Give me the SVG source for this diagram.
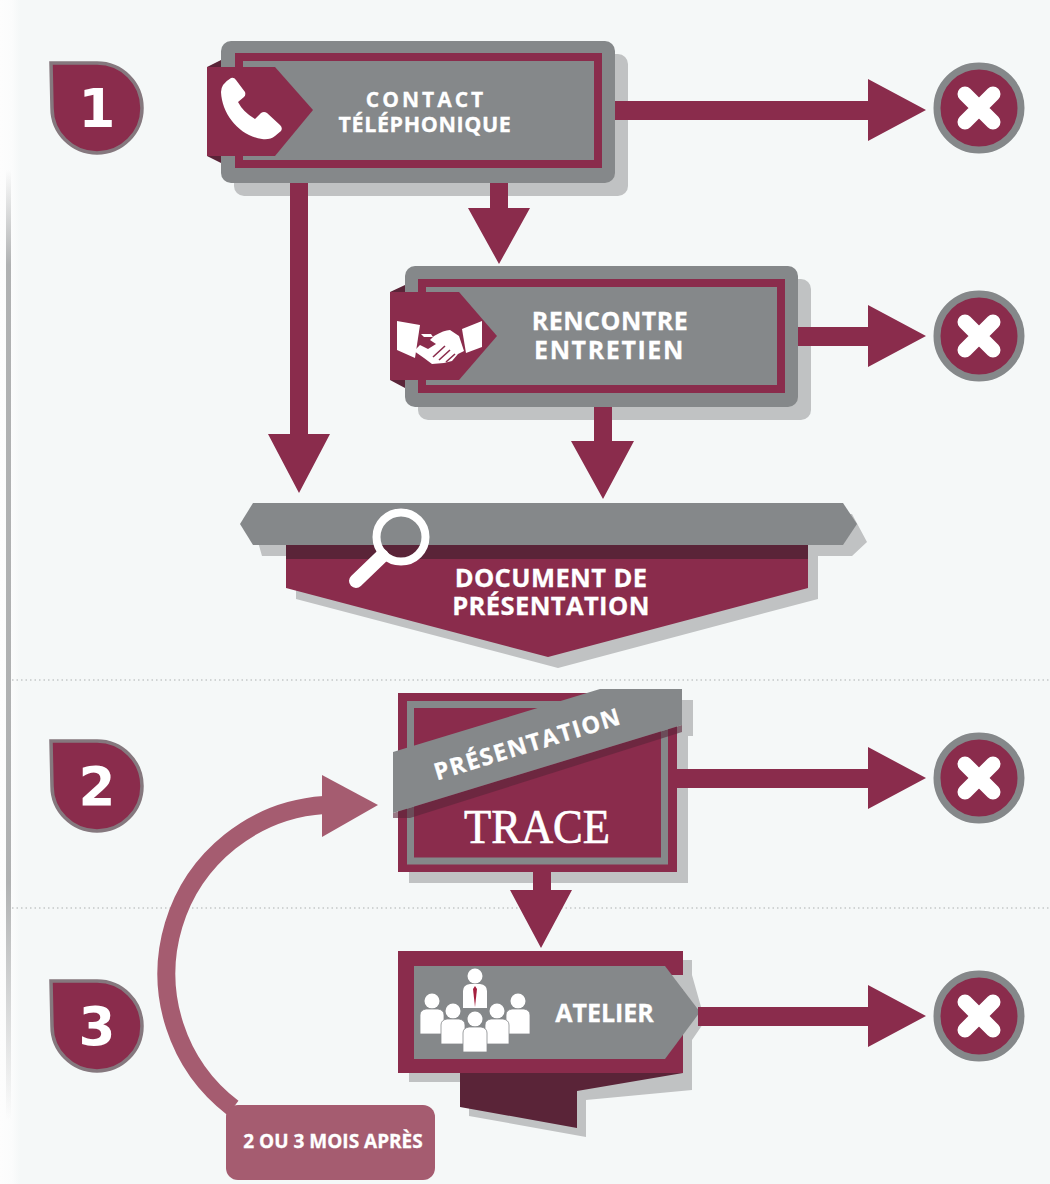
<svg xmlns="http://www.w3.org/2000/svg" width="1050" height="1184" viewBox="0 0 1050 1184">
<defs>
<linearGradient id="edge" x1="0" x2="0" y1="0" y2="1"><stop offset="0" stop-color="#8f9192" stop-opacity="0"/><stop offset=".1" stop-color="#8f9192" stop-opacity=".7"/><stop offset=".75" stop-color="#8f9192" stop-opacity=".7"/><stop offset="1" stop-color="#8f9192" stop-opacity="0"/></linearGradient>
<linearGradient id="strip" x1="0" x2="1" y1="0" y2="0"><stop offset="0" stop-color="#fdfdfd"/><stop offset=".6" stop-color="#fbfcfc"/><stop offset="1" stop-color="#f5f8f8"/></linearGradient>
<g id="xmark"><circle r="42" class="m" stroke="#85888a" stroke-width="7"/><path d="M-14,-14L14,14M14,-14L-14,14" stroke="#fff" stroke-width="15" stroke-linecap="round"/></g>
<path id="badge" d="M51,63H97A45,45 0 1 1 52,108Z" class="m" stroke="#85787e" stroke-width="3.500"/>
<g id="person"><circle cx="0" cy="-12" r="7.500"/><path d="M-12,21V2Q-12,-3 -6,-4H6Q12,-3 12,2V21Z" stroke="#85888a" stroke-width=".8"/></g>
</defs>
<style>
.m{fill:#8a2c4c}.g{fill:#85888a}.s{fill:#c0c2c3}.d{fill:#5a2438}
.t{font-family:"Open Sans","Liberation Sans",sans-serif;font-weight:700;fill:#fff;stroke:#fff;stroke-width:.3;text-anchor:middle}
.n{font-family:"DejaVu Sans",sans-serif;font-weight:700;font-size:53px;fill:#fff;text-anchor:middle}
.dot{stroke:#c4c7c8;stroke-width:1.5;stroke-dasharray:1.5 3;fill:none}
</style>
<rect width="1050" height="1184" fill="#f5f8f8"/>
<rect x="0" y="0" width="20" height="1184" fill="url(#strip)"/>
<rect x="6" y="170" width="5" height="950" fill="url(#edge)"/>
<line class="dot" x1="12" y1="680" x2="1050" y2="680"/>
<line class="dot" x1="12" y1="908" x2="1050" y2="908"/>

<g id="badge-1"><use href="#badge"/><text class="n" x="97" y="127">1</text></g>
<g id="badge-2"><use href="#badge" y="678"/><text class="n" x="97" y="805">2</text></g>
<g id="badge-3"><use href="#badge" y="918"/><text class="n" x="97" y="1045">3</text></g>

<g id="reject-1"><use href="#xmark" x="979" y="108"/></g>
<g id="reject-2"><use href="#xmark" x="979" y="336"/></g>
<g id="reject-3"><use href="#xmark" x="979" y="778"/></g>
<g id="reject-4"><use href="#xmark" x="979" y="1016"/></g>

<g id="contact">
<rect class="s" x="234" y="54" width="394" height="142" rx="10"/>
<rect class="g" x="221" y="41" width="394" height="142" rx="10"/>
<rect x="239" y="57" width="359" height="107" fill="none" stroke="#8a2c4c" stroke-width="8"/>
<path class="d" d="M221,60L207,67H221ZM207,156L221,163V156Z"/>
<path class="m" d="M207,67H275L313,110L275,156H207Z"/>
<path fill="#fff" d="M231,78Q234,77 236,80L245,92Q246,95 244,97L238,102Q243,112 255,119L261,113Q264,111 267,113L280,125Q283,128 281,131L275,136Q270,140 262,139C240,136 222,115 221,92Q221,84 231,78Z"/>
<text class="t" x="426" y="107" font-size="21" letter-spacing="3">CONTACT</text>
<text class="t" x="425" y="132" font-size="21.500" letter-spacing="0.6">TÉLÉPHONIQUE</text>
</g>

<g id="rencontre">
<rect class="s" x="418" y="279" width="393" height="141" rx="10"/>
<rect class="g" x="405" y="266" width="393" height="141" rx="10"/>
<rect x="422" y="283" width="359" height="106" fill="none" stroke="#8a2c4c" stroke-width="8"/>
<path class="d" d="M405,285L390,292H405ZM390,380L405,388V380Z"/>
<path class="m" d="M390,292H459L497,336L459,380H390Z"/>
<g fill="#fff">
<path d="M397,321L420,325L415,358L397,350Z"/>
<path d="M482,321L462,329L466,353L482,347Z"/>
<path d="M421,334H431L433,337H424ZM434,336Q444,330 450,330L459,336L464,351L458,354L452,361L444,363L432,364L424,358L414,351L420,345L428,349L436,344L430,340Z"/>
</g>
<path d="M439,360L450,350M433,357L445,346M446,362L455,354" stroke="#8a2c4c" stroke-width="1.600" fill="none"/>
<text class="t" x="610" y="330" font-size="25" letter-spacing="0.5">RENCONTRE</text>
<text class="t" x="609.500" y="359" font-size="25" letter-spacing="1.600">ENTRETIEN</text>
</g>

<g id="document">
<path class="s" d="M250,514H852L867,542L852,556H818V599L558,668L296,599V556H262Z"/>
<path class="m" d="M286,545H808V588L548,657L286,588Z"/>
<rect class="d" x="286" y="545" width="522" height="14"/>
<path class="g" d="M253,503H843L857,524L843,545H253L240,524Z"/>
<g fill="none" stroke="#fff" stroke-linecap="round">
<circle cx="401" cy="537" r="24.500" stroke-width="8"/>
<path d="M382,556L356,581" stroke-width="14"/>
</g>
<text class="t" x="551" y="587" font-size="25.500" letter-spacing=".4">DOCUMENT DE</text>
<text class="t" x="551" y="615" font-size="25.500" letter-spacing=".4">PRÉSENTATION</text>
</g>

<g id="trace">
<rect class="s" x="409" y="704" width="279" height="179"/>
<rect class="m" x="398" y="693" width="279" height="179"/>
<rect x="410.500" y="704.500" width="254" height="156.500" fill="none" stroke="#85888a" stroke-width="7"/>
<rect class="s" x="682" y="700" width="11" height="36"/>
<path d="M393,813L682,725V732L410,818H393Z" fill="#5a2438" opacity=".6"/>
<path class="g" d="M393,752L600,689H682V725L393,813Z"/>
<text class="t" transform="translate(530,752) rotate(-17)" font-size="23.500" letter-spacing="1.400">PRÉSENTATION</text>
<text x="537" y="843" font-family="'Liberation Serif',serif" font-size="48" fill="#fff" stroke="#fff" stroke-width=".7" text-anchor="middle" textLength="146" lengthAdjust="spacingAndGlyphs">TRACE</text>
</g>

<g id="atelier">
<path class="s" d="M409,1062H692V1082H409ZM683,960H692V1090L586,1100V1137L469,1116V1080Z"/>
<path class="d" d="M460,1073H683L577,1091V1128L460,1107Z"/>
<rect class="m" x="398" y="951" width="285" height="122"/>
<path class="s" d="M665,975H692L705,1021L692,1040H683V990Z"/>
<path class="g" d="M414,966H665L700,1012L665,1059H414Z"/>
<g fill="#fff">
<use href="#person" x="432" y="1013"/>
<use href="#person" x="518" y="1013"/>
<use href="#person" x="453" y="1023"/>
<use href="#person" x="497" y="1023"/>
<use href="#person" x="475" y="1031"/>
<circle cx="475" cy="976" r="7.500"/>
<path d="M463,1008V991Q463,985 470,984H480Q487,985 487,991V1008Z"/>
</g>
<path d="M475,986L473,989L475,1007L477,989Z" fill="#a5203f"/>
<text class="t" x="604.500" y="1022" font-size="25">ATELIER</text>
</g>

<g id="connectors">
<g class="m">
<path d="M615,101H868V79L926,110L868,141V120H615Z"/>
<path d="M798,327H868V305L926,336L868,367V346H798Z"/>
<path d="M677,769H868V747L926,778L868,809V788H677Z"/>
<path d="M698,1007H868V985L926,1016L868,1047V1026H698Z"/>
<path d="M290,183H308V434H330L299,493L268,434H290Z"/>
<path d="M490,183H508V208H530L499,264L468,208H490Z"/>
<path d="M594,407H612V441H634L603,499L571,441H594Z"/>
<path d="M533,872H551V890H572L541,948L510,890H533Z"/>
</g>
<path d="M233,1108A169,169 0 0 1 324,805" fill="none" stroke="#a55c70" stroke-width="18"/>
<path d="M322,775L378,805L322,837Z" fill="#a55c70"/>
</g>

<g id="delay">
<rect x="226" y="1105" width="209" height="75" rx="12" fill="#a55c70"/>
<text class="t" x="333" y="1148" font-size="19">2 OU 3 MOIS APRÈS</text>
</g>
</svg>
